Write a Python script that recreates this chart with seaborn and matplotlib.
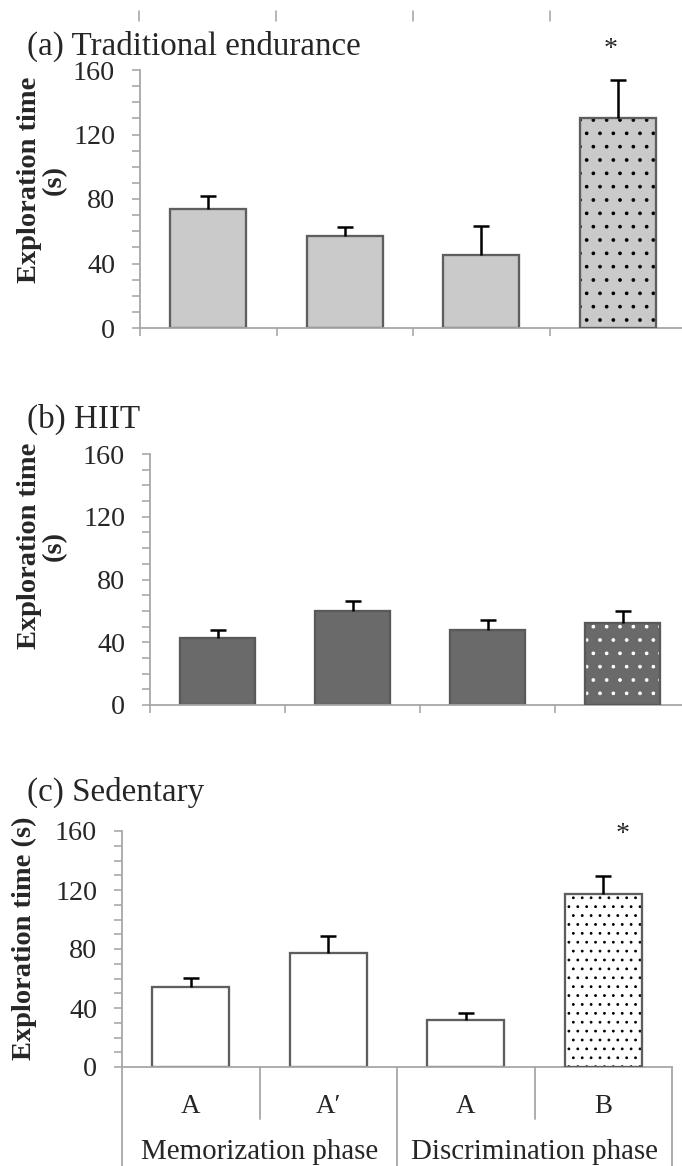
import numpy as np
import pandas as pd
import matplotlib
matplotlib.use("Agg")
import matplotlib.pyplot as plt
import seaborn as sns
from matplotlib.patches import Rectangle
from matplotlib.lines import Line2D

# ---------------- data ----------------
conditions = ["Memorization A", "Memorization A'", "Discrimination A", "Discrimination B"]
tick_labels = ["A", "A\u2032", "A", "B"]
phases = ["Memorization phase", "Discrimination phase"]
panel_titles = ["(a) Traditional endurance", "(b) HIIT", "(c) Sedentary"]
endurance_mean = [74, 57, 45, 130]
endurance_sem = [8, 5.5, 18, 24]
hiit_mean = [43, 60, 48, 52.5]
hiit_sem = [4.5, 6.5, 6.5, 7.5]
sedentary_mean = [54, 77.5, 32, 117]
sedentary_sem = [6.5, 11.5, 4.5, 12.5]
yticks = [0, 40, 80, 120, 160]

# ---------------- style ----------------
W, H, DPI = 682, 1166, 160


def P(px):
    return px * 72.0 / DPI


sns.set_theme(style="white")
plt.rcParams["font.family"] = ["Liberation Serif", "DejaVu Serif"]
plt.rcParams["hatch.linewidth"] = P(1.0)

AXC = "#a6a6a6"
fig = plt.figure(figsize=(W / DPI, H / DPI), dpi=DPI)
fig.patch.set_facecolor("white")


def add_ax(left, right, top, bottom):
    return fig.add_axes([left / W, 1 - bottom / H, (right - left) / W, (bottom - top) / H])


def panel(ax, mean, sem, face, edge, hatch, hatch_color):
    df = pd.DataFrame({"cond": conditions, "time": mean})
    sns.barplot(data=df, x="cond", y="time", order=conditions, color=face,
                saturation=1, edgecolor=edge, linewidth=P(2.3), width=0.56,
                errorbar=None, ax=ax, zorder=2)
    bars = list(ax.patches)
    xs = [b.get_x() + b.get_width() / 2 for b in bars]
    hb = bars[3]
    hb.set_hatch(hatch)
    hb.set_edgecolor(hatch_color)
    hb.set_linewidth(0)
    ax.add_patch(Rectangle(hb.get_xy(), hb.get_width(), hb.get_height(), fill=False,
                           edgecolor=edge, linewidth=P(2.3), zorder=3))
    eb = ax.errorbar(xs, mean, yerr=[np.zeros(len(mean)), sem], fmt="none", ecolor="black",
                     elinewidth=P(2.5), capsize=P(8), capthick=P(2.5), zorder=4)
    # only the upper caps are shown in the reference
    for cap in eb[1]:
        if np.allclose(cap.get_ydata(), mean):
            cap.remove()
    ax.set_ylim(0, 160)
    ax.set_xlim(-0.5, 3.5)
    ax.set_yticks(yticks)
    ax.set_yticks(np.arange(0, 161, 10), minor=True)
    ax.set_xlabel("")
    ax.set_ylabel("")
    for s in ["top", "right"]:
        ax.spines[s].set_visible(False)
    for s in ["left", "bottom"]:
        ax.spines[s].set_color(AXC)
        ax.spines[s].set_linewidth(P(1.8))
    ax.tick_params(axis="y", which="both", direction="out", color=AXC, length=P(8),
                   width=P(1.6), labelsize=P(28), pad=P(17), left=True)
    ax.set_facecolor("white")
    return xs


# panel a
ax_a = add_ax(140, 686, 70, 328)
xs_a = panel(ax_a, endurance_mean, endurance_sem, "#cacaca", "#5e5e5e", "..", "black")
# panel b
ax_b = add_ax(150, 690, 454, 705)
xs_b = panel(ax_b, hiit_mean, hiit_sem, "#6a6a6a", "#595959", "..", "white")
# panel c
ax_c = add_ax(122, 672, 831, 1067)
xs_c = panel(ax_c, sedentary_mean, sedentary_sem, "white", "#5e5e5e", "...", "black")

# x ticks: boundaries for a and b
for ax in (ax_a, ax_b):
    ax.set_xticks([])
    ax.set_xticks([-0.5, 0.5, 1.5, 2.5, 3.5], minor=True)
    ax.tick_params(axis="x", which="minor", direction="out", color=AXC, length=P(8),
                   width=P(1.6), bottom=True, labelbottom=False)

# panel c category table
ax_c.set_xticks(range(len(tick_labels)))
ax_c.set_xticklabels(tick_labels)
ax_c.tick_params(axis="x", which="major", length=0, labelsize=P(27), pad=P(27))
ax_c.set_xticks([], minor=True)
tr = ax_c.get_xaxis_transform()
for xb in (-0.5, 1.5, 3.5):
    ax_c.add_line(Line2D([xb, xb], [0, -0.45], transform=tr, color=AXC, lw=P(1.8), clip_on=False))
for xb in (0.5, 2.5):
    ax_c.add_line(Line2D([xb, xb], [0, -0.22], transform=tr, color=AXC, lw=P(1.8), clip_on=False))
ax_c.text(0.5, -0.39, phases[0], transform=tr, ha="center", va="baseline", fontsize=P(29))
ax_c.text(2.5, -0.39, phases[1], transform=tr, ha="center", va="baseline", fontsize=P(29))

# titles
for (ytop, t) in zip([46, 419, 792], panel_titles):
    fig.text(27 / W, 1 - ytop / H, t, ha="left", va="center", fontsize=P(33))

# y labels
fig.text(42 / W, 1 - 180 / H, "Exploration time\n(s)", rotation=90, ha="center", va="center",
         fontsize=P(28.5), fontweight="bold", multialignment="center", linespacing=1.0)
fig.text(42 / W, 1 - 546 / H, "Exploration time\n(s)", rotation=90, ha="center", va="center",
         fontsize=P(28.5), fontweight="bold", multialignment="center", linespacing=1.0)
fig.text(24 / W, 1 - 938 / H, "Exploration time (s)", rotation=90, ha="center", va="center",
         fontsize=P(28.5), fontweight="bold")

# significance asterisks
ax_a.text(xs_a[3] - 0.05, 1.08, "*", transform=ax_a.get_xaxis_transform(), ha="center",
          va="center", fontsize=P(28))
ax_c.text(xs_c[3] + 0.14, 0.985, "*", transform=ax_c.get_xaxis_transform(), ha="center",
          va="center", fontsize=P(28))

# remnants of ticks cropped from the panel above
for xp in (139, 276, 413, 550):
    fig.add_artist(Line2D([xp / W, xp / W], [1 - 11 / H, 1 - 21 / H], transform=fig.transFigure,
                          color=AXC, lw=P(1.6)))

fig.savefig("out.png", dpi=DPI, facecolor="white")
